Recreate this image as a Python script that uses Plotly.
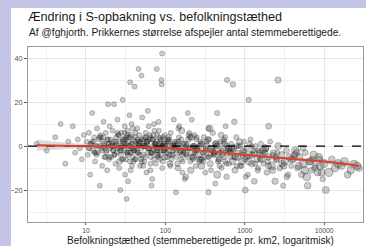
import plotly.graph_objects as go

# ---- data (density: eligible voters per km2, change: pct points, voters: thousands)
taethed_a = [2.4, 3.2, 4.1, 4.8, 5.5, 6.0, 6.8, 7.3, 7.9, 8.4, 8.9, 9.4]
aendring_a = [1, -2, 4, 10, -8, 2, 9, -3, 3, -1, -6, 5]
vaelgere_a = [0.4, 0.3, 0.5, 0.6, 0.5, 0.7, 0.4, 0.6, 0.9, 1.2, 0.7, 0.8]

taethed_b = [10.2, 10.5, 10.9, 11.3, 11.6, 12.0, 12.3, 12.7, 13.0, 13.4, 13.8, 14.1, 14.5, 14.9, 15.2, 15.6,
             16.0, 16.3, 16.7, 17.0, 17.4, 17.8, 18.1, 18.5, 18.8, 19.2, 19.6, 19.9, 11.1, 12.5, 13.6, 15.0,
             16.5, 18.0, 19.4]
aendring_b = [2, -4, 6, -13, 1, 15, -2, 4, -7, 0, 8, -3, 3, -18, 5, -1, -9, 2, 11, -5, 0, 6, -2, -11, 3, 1,
              -6, 9, -1, 2, -4, 0, 4, -3, 1]
vaelgere_b = [1.1, 0.8, 2.0, 0.6, 1.5, 0.9, 2.4, 1.2, 0.7, 3.0, 1.0, 1.8, 0.9, 0.5, 1.4, 2.2, 0.8, 1.6, 0.7,
              1.3, 2.8, 1.0, 1.9, 0.6, 1.2, 2.5, 0.9, 1.1, 1.7, 2.1, 1.0, 3.2, 0.8, 1.5, 2.0]

taethed_c = [20.3, 20.8, 21.2, 21.7, 22.1, 22.6, 23.0, 23.5, 24.0, 24.4, 24.9, 25.3, 25.8, 26.2, 26.7, 27.1,
             27.6, 28.0, 28.5, 29.0, 29.4, 29.9, 30.3, 30.8, 31.2, 31.7, 32.1, 32.6, 33.0, 33.5, 34.0, 34.4,
             34.9, 35.3, 35.8, 36.2, 36.7, 37.1, 37.6, 38.0, 38.5, 39.0, 39.4, 39.9, 20.5, 22.9, 25.1, 27.3,
             29.6, 31.9, 34.2, 36.5, 38.8, 21.9, 24.2, 26.5, 28.8, 31.1, 33.4, 35.7]
aendring_c = [3, -5, 1, 7, -2, 19, 0, -8, 4, -3, 12, -1, 5, -10, 2, -20, -4, 6, 0, 21, -6, 3, -2, 9, -13, 1,
              4, -24, -3, 7, -16, 2, -1, 14, -7, 0, 5, -3, 10, -9, 1, -5, 3, -2, 0, -4, 6, -1, 2, -6, 4, -11,
              8, -2, 1, -7, 3, 0, 5, -3]
vaelgere_c = [1.5, 2.2, 0.9, 3.1, 1.2, 2.6, 1.8, 0.8, 4.0, 1.4, 2.0, 3.3, 1.1, 0.7, 2.7, 1.6, 3.8, 1.0, 2.3,
              1.9, 0.9, 4.5, 1.3, 2.1, 0.8, 3.0, 1.7, 1.2, 2.5, 3.6, 1.4, 0.9, 2.9, 1.8, 1.1, 4.2, 2.0, 1.5,
              0.8, 3.4, 2.4, 1.0, 1.9, 2.8, 3.2, 1.3, 2.6, 0.9, 4.8, 1.7, 2.2, 1.1, 3.5, 2.0, 1.4, 5.0, 1.6,
              2.7, 0.9, 3.9]

taethed_d = [40.8, 41.6, 42.5, 43.3, 44.2, 45.1, 46.0, 47.0, 48.0, 49.0, 50.0, 51.1, 52.2, 53.3, 54.4, 55.5,
             56.7, 57.9, 59.1, 60.3, 61.6, 62.9, 64.2, 65.5, 66.9, 68.3, 69.7, 71.2, 72.7, 74.2, 75.7, 77.3,
             78.9, 80.6, 82.3, 84.0, 85.7, 87.5, 89.4, 91.2, 93.1, 95.1, 97.1, 99.1, 42.0, 44.8, 47.5, 50.5,
             53.8, 57.0, 60.8, 64.8, 69.0, 73.5, 78.0, 83.0, 88.5, 94.0, 98.0, 41.2, 46.5, 52.7, 58.5, 63.5,
             67.6, 72.0, 76.5, 81.5, 86.6, 92.0, 96.0, 55.0, 65.0, 75.0]
aendring_d = [-2, 4, -6, 1, 8, -3, 0, 5, -9, 2, -1, 13, -4, 3, -7, 0, 6, -12, 2, -3, 9, -1, 4, -5, -18, -15,
              3, -2, 7, 0, -8, 2, 5, -4, 11, -1, -6, 3, 0, -10, 4, -2, 1, -5, 6, -3, 2, -7, 0, 4, -1, -11,
              3, 1, -4, 7, -2, 0, 5, -6, 2, -9, 1, 3, -3, 10, -1, -5, 2, 0, -2, 4, -8, 1]
vaelgere_d = [2.1, 1.3, 3.5, 0.9, 2.7, 1.6, 4.1, 1.2, 2.4, 3.0, 1.8, 0.8, 5.2, 2.0, 1.4, 3.7, 1.1, 2.6, 4.6,
              1.5, 2.9, 1.0, 3.3, 1.9, 0.7, 2.2, 4.4, 1.6, 3.1, 2.5, 1.2, 5.5, 2.0, 1.4, 3.8, 0.9, 2.7, 4.0,
              1.7, 2.3, 3.4, 1.1, 2.8, 4.9, 1.5, 3.0, 2.2, 1.0, 4.3, 1.8, 2.6, 3.6, 1.3, 2.0, 5.8, 1.6, 2.4,
              3.2, 1.1, 2.9, 4.7, 1.4, 2.1, 3.9, 1.7, 2.5, 1.0, 3.5, 2.2, 4.2, 1.5, 2.8, 3.1, 1.9]

taethed_e = [102, 105, 108, 111, 114, 117, 121, 124, 128, 132, 136, 140, 144, 148, 152, 157, 161, 166, 171,
             176, 181, 186, 192, 197, 203, 209, 215, 222, 228, 235, 242, 249, 104, 110, 116, 123, 130, 138,
             146, 155, 164, 174, 184, 195, 207, 219, 232, 245, 107, 119, 134, 150, 168, 189, 212, 238, 113,
             126, 142, 159, 179, 200, 225]
aendring_e = [1, -5, 3, -2, -8, 6, 0, -4, 12, -1, -21, 2, -10, 4, -3, 0, 7, -7, -2, -15, -14, 1, 15, 5, -1,
              -11, 12, -6, 0, -3, -9, 4, -3, 4, -9, 0, 2, -5, 8, -2, -12, 1, -4, 3, -7, 0, 5, -1, 2, -6, 0,
              9, -3, -5, 4, -2, -4, 1, -8, 3, -1, 6, -5]
vaelgere_e = [2.5, 4.0, 1.6, 3.2, 5.1, 2.0, 1.2, 3.8, 2.7, 6.0, 1.4, 2.9, 4.5, 1.8, 3.3, 2.2, 5.5, 1.0, 3.6,
              2.4, 4.8, 1.5, 2.6, 3.9, 1.9, 5.8, 2.1, 3.0, 4.2, 1.3, 2.8, 3.5, 1.7, 4.4, 2.3, 6.4, 1.1, 3.1,
              2.6, 5.0, 1.6, 3.7, 2.0, 4.6, 1.4, 2.9, 3.4, 5.3, 2.2, 1.2, 4.1, 2.7, 3.3, 1.8, 6.1, 2.5, 3.0,
              1.5, 4.7, 2.1, 3.6, 1.9, 5.6]

taethed_f = [255, 265, 275, 285, 296, 307, 318, 330, 342, 355, 368, 382, 396, 411, 426, 442, 458, 475, 493,
             511, 530, 550, 570, 591, 613, 260, 280, 302, 325, 350, 376, 405, 436, 469, 505, 543, 584, 628,
             270, 313, 362, 418, 484, 560, 290, 345, 400, 450, 520, 600]
aendring_f = [-1, -6, 2, -9, -3, 4, -12, 0, -5, 3, -8, -2, 6, -4, -17, 1, -7, -3, 2, -10, -1, -5, 4, -14,
              -2, -4, 1, -7, -2, -21, -11, -3, 0, -6, 5, 2, -8, -1, 0, -5, 8, -3, -9, 1, -6, 3, -2, -13, -4,
              0]
vaelgere_f = [3.4, 5.0, 2.1, 6.3, 1.7, 4.2, 2.8, 7.0, 3.6, 1.9, 5.4, 2.5, 4.0, 3.1, 1.5, 6.6, 2.3, 4.7, 3.8,
              2.0, 5.9, 3.0, 1.6, 4.4, 2.7, 6.8, 3.3, 2.0, 5.2, 4.1, 1.8, 3.7, 6.1, 2.4, 4.9, 3.5, 2.2, 5.7,
              4.3, 2.9, 6.5, 1.9, 3.9, 5.1, 2.6, 4.8, 3.2, 7.4, 2.1, 4.5]

taethed_g = [650, 675, 700, 727, 755, 783, 813, 844, 876, 909, 944, 980, 1017, 1056, 1096, 1138, 1181, 1226,
             1273, 1321, 1371, 1423, 1477, 1533, 1591, 660, 720, 790, 860, 940, 1030, 1120, 1230, 1340, 1460,
             1560]
aendring_g = [-3, 1, -7, -2, -11, 4, -5, 0, -9, -9, -3, 2, -20, -1, -13, -4, 3, -8, -2, -16, 0, -6, -10, -3,
              1, -5, -1, -9, 2, -4, -14, -7, 0, -3, -11, -6]
vaelgere_g = [4.6, 3.0, 6.2, 2.4, 5.3, 3.8, 7.1, 2.9, 4.4, 3.3, 6.7, 2.2, 5.0, 4.1, 3.5, 7.6, 2.7, 5.6, 3.9,
              4.8, 2.5, 6.0, 3.6, 5.4, 4.2, 3.1, 6.9, 2.8, 5.2, 4.5, 3.4, 7.3, 2.6, 5.8, 4.0, 3.2]

taethed_h = [1650, 1730, 1810, 1900, 1990, 2090, 2190, 2300, 2410, 2520, 2650, 2770, 2910, 3050, 3200, 3350,
             3510, 3680, 3860, 1700, 1950, 2240, 2580, 2960, 3400, 3900, 1850, 2450, 3100]
aendring_h = [-4, -8, -1, -12, -5, 2, -9, -3, -16, -6, 0, -10, -4, -18, -7, -2, -13, -5, -9, -2, -7, -11, -3,
              -8, -14, -6, -1, -5, -9]
vaelgere_h = [5.5, 3.7, 7.8, 4.3, 6.1, 3.2, 8.4, 4.9, 5.8, 3.5, 7.0, 4.6, 6.4, 3.9, 8.0, 5.1, 4.2, 6.8, 3.6,
              7.5, 4.4, 5.9, 3.3, 6.6, 4.8, 7.2, 5.2, 3.8, 6.3]

taethed_i = [4100, 4350, 4600, 4900, 5200, 5500, 5800, 6200, 6550, 6950, 7400, 7800, 8300, 8800, 9300, 9900,
             4250, 4800, 5400, 6050, 6800, 7600, 8550, 9600, 4500, 5700, 7100, 8900]
aendring_i = [-6, -2, -10, -5, -13, -8, -3, -18, -7, -11, -4, -9, -12, -6, -12, -8, -4, -9, -1, -14, -7, -10,
              -5, -15, -3, -11, -6, -9]
vaelgere_i = [6.0, 8.2, 4.5, 7.1, 5.3, 9.0, 4.8, 6.6, 7.7, 5.0, 8.5, 4.2, 6.9, 5.6, 7.4, 9.3, 5.8, 7.0, 4.6,
              8.8, 6.2, 5.1, 7.9, 4.4, 6.5, 8.1, 5.4, 7.3]

taethed_j = [10500, 11500, 12500, 13700, 15000, 16500, 18000, 19800, 21700, 23800, 26000, 27500]
aendring_j = [-20, -12, -6, -10, -8, -9, -7, -13, -11, -8, -9, -10]
vaelgere_j = [7.0, 9.5, 6.2, 8.4, 10.2, 7.6, 9.0, 6.8, 8.0, 7.3, 8.8, 6.5]

# dense core of the cloud
taethed_k1 = [10.8, 11.9, 12.8, 13.9, 14.7, 15.8, 16.9, 17.6, 18.9, 20.0, 21.4, 22.8, 23.7, 25.5, 26.9, 28.2,
              29.8, 31.5, 32.9, 34.7, 36.0, 37.8, 39.6, 41.8, 43.7, 45.6, 47.8, 50.2, 52.6, 55.8, 58.0, 61.0,
              63.9, 66.2, 69.5, 72.4, 75.1, 79.5, 83.6, 87.1, 90.5, 94.6, 98.5, 11.5, 13.2, 15.4, 17.2, 19.6,
              22.3, 24.6, 27.8, 30.6, 33.8, 37.0, 40.4, 44.9, 49.4, 54.0, 59.6, 65.8, 71.0, 77.7, 85.2, 92.8,
              99.6]
aendring_k1 = [-1, 2, -3, 0, 4, -2, 1, -5, 3, -1, 0, -4, 2, 5, -2, -6, 1, 3, -3, 0, 4, -1, -7, 2, -2, 1, -4,
               3, 0, -5, 2, -1, 5, -3, 0, -6, 1, -2, 4, -4, 0, 3, -2, 1, -3, 4, -1, -5, 2, 0, -2, 6, -4, 1,
               -1, 3, -6, 0, 2, -3, 5, -2, 1, -7, 0]
vaelgere_k1 = [1.2, 2.0, 1.5, 2.6, 1.0, 3.0, 1.8, 2.2, 1.4, 3.4, 2.1, 1.6, 2.8, 1.1, 3.6, 2.4, 1.9, 3.1, 1.3,
               2.7, 4.0, 1.7, 2.3, 3.3, 1.5, 2.9, 3.8, 2.0, 1.2, 3.5, 2.6, 4.2, 1.8, 3.0, 2.2, 1.4, 3.9, 2.5,
               1.9, 4.4, 2.8, 1.6, 3.2, 1.3, 2.1, 2.9, 1.7, 3.4, 2.4, 1.5, 3.7, 2.0, 4.1, 2.6, 1.8, 3.1, 2.3,
               4.5, 1.9, 3.3, 2.7, 1.4, 3.9, 2.2, 4.6]

taethed_k2 = [103, 112, 120, 129, 139, 147, 158, 169, 180, 193, 206, 218, 233, 252, 268, 288, 308, 332, 356,
              384, 410, 440, 475, 512, 548, 590, 635, 680, 735, 790, 850, 915, 985, 1060, 1150, 1240, 1350,
              1480, 1620, 1800, 2000, 2250, 2500, 109, 125, 143, 162, 185, 214, 246, 280, 322, 370, 425, 490,
              565, 650, 760, 880, 1010]
aendring_k2 = [-1, 3, -4, 0, -2, 2, -6, 1, -3, -1, 4, -5, 0, -2, -7, 1, -3, 2, -5, -1, -4, 0, -6, -2, 3, -3,
               -8, -1, -5, 0, -3, -7, -2, -5, 1, -4, -8, -2, -6, -3, -9, -4, -6, 2, -2, 1, -4, 0, -3, 3, -6,
               -1, -4, 1, -3, -7, -2, -5, 0, -6]
vaelgere_k2 = [2.8, 1.6, 3.9, 2.2, 4.6, 1.9, 3.3, 2.5, 5.0, 1.7, 3.6, 2.9, 4.3, 2.0, 3.1, 5.4, 2.4, 3.8, 1.8,
               4.9, 3.0, 2.6, 5.8, 3.5, 2.1, 4.4, 3.2, 5.2, 2.7, 4.0, 3.7, 6.0, 2.9, 4.7, 3.4, 5.5, 4.1, 3.0,
               6.3, 4.5, 5.1, 3.6, 6.6, 2.3, 3.7, 1.9, 4.2, 2.8, 5.3, 3.1, 4.8, 2.5, 3.9, 5.6, 2.7, 4.1, 3.3,
               6.2, 3.8, 4.4]

# outliers
taethed_o = [91, 46, 50, 78, 89, 90, 36, 41, 600, 710, 2630, 1120, 450, 740, 575, 350, 2000, 19, 60]
aendring_o = [42, 35, 32, 35, 30, 28, 29, 27, 30, 28, 30, 21, 15, 11, 9, 8, 9, 19, 16]
vaelgere_o = [3.0, 2.5, 2.8, 3.4, 2.6, 2.9, 2.2, 2.4, 4.0, 4.5, 5.5, 4.2, 3.8, 4.4, 3.6, 3.2, 5.0, 1.8, 2.5]

# smoothed trend (loess) and its half confidence width
trend_x = [2.4, 5, 13, 30, 56, 100, 240, 500, 1000, 2000, 4500, 10000, 20000, 27500]
trend_y = [0.4, 0.2, 0, -0.3, -0.5, -0.9, -1.8, -2.9, -4.0, -5.0, -6.0, -7.0, -8.3, -9.0]
trend_se = [2.5, 1.5, 0.7, 0.5, 0.4, 0.4, 0.4, 0.5, 0.5, 0.6, 0.8, 1.0, 1.4, 1.8]

x_ticks = [10, 100, 1000, 10000]
x_ticktext = ["10", "100", "1000", "10000"]
x_minor = [3.1623, 31.623, 316.23, 3162.3]
y_ticks = [-20, 0, 20, 40]
y_minor = [-30, -10, 10, 30]

title = "Ændring i S-opbakning vs. befolkningstæthed"
subtitle = "Af @fghjorth. Prikkernes størrelse afspejler antal stemmeberettigede."
x_title = "Befolkningstæthed (stemmeberettigede pr. km2, logaritmisk)"

# ---- assemble
xs = (taethed_a + taethed_b + taethed_c + taethed_d + taethed_e + taethed_f + taethed_g + taethed_h
      + taethed_i + taethed_j + taethed_k1 + taethed_k2 + taethed_o)
ys = (aendring_a + aendring_b + aendring_c + aendring_d + aendring_e + aendring_f + aendring_g + aendring_h
      + aendring_i + aendring_j + aendring_k1 + aendring_k2 + aendring_o)
vs = (vaelgere_a + vaelgere_b + vaelgere_c + vaelgere_d + vaelgere_e + vaelgere_f + vaelgere_g + vaelgere_h
      + vaelgere_i + vaelgere_j + vaelgere_k1 + vaelgere_k2 + vaelgere_o)

x_log_range = [0.27, 4.49]
y_range = [-34.5, 45]
FONT = "Liberation Sans, Arial, sans-serif"

fig = go.Figure()

fig.add_trace(go.Scatter(
    x=xs, y=ys, mode="markers",
    marker=dict(size=vs, sizemode="area", sizeref=2 * max(vs) / (8.5 ** 2), sizemin=2.5,
                color="rgba(35,35,35,0.33)",
                line=dict(color="rgba(15,15,15,0.5)", width=0.7)),
    hoverinfo="skip", showlegend=False))

upper = [y + s for y, s in zip(trend_y, trend_se)]
lower = [y - s for y, s in zip(trend_y, trend_se)]
fig.add_trace(go.Scatter(x=trend_x + trend_x[::-1], y=upper + lower[::-1], fill="toself",
                         fillcolor="rgba(150,150,150,0.35)", line=dict(width=0),
                         hoverinfo="skip", showlegend=False))

fig.add_trace(go.Scatter(x=[10 ** x_log_range[0], 10 ** x_log_range[1]], y=[0, 0], mode="lines",
                         line=dict(color="black", width=1.2, dash="dash"),
                         hoverinfo="skip", showlegend=False))

fig.add_trace(go.Scatter(x=trend_x, y=trend_y, mode="lines",
                         line=dict(color="#dc3f2a", width=2.0),
                         hoverinfo="skip", showlegend=False))

L, R, T, B = 28, 3, 47, 24
W, H = 366, 246
pw, ph = W - L - R, H - T - B

def px_x(px):
    return (px - L) / pw

def px_y(py):
    return (H - B - py) / ph

fig.add_shape(type="rect", xref="paper", yref="paper", layer="below",
              x0=px_x(11), x1=px_x(W + 5), y0=px_y(H + 5), y1=px_y(8),
              fillcolor="white", line=dict(width=0))

fig.add_annotation(text=title, xref="paper", yref="paper", x=px_x(26), y=px_y(17),
                   xanchor="left", yanchor="middle", showarrow=False,
                   font=dict(family=FONT, size=12.6, color="#1a1a1a"))
fig.add_annotation(text=subtitle, xref="paper", yref="paper", x=px_x(27), y=px_y(32),
                   xanchor="left", yanchor="middle", showarrow=False,
                   font=dict(family=FONT, size=10.2, color="#1a1a1a"))
fig.add_annotation(text=x_title, xref="paper", yref="paper", x=px_x(200), y=px_y(240.5),
                   xanchor="center", yanchor="middle", showarrow=False,
                   font=dict(family=FONT, size=10.0, color="#1a1a1a"))

fig.update_xaxes(type="log", range=x_log_range, tickvals=x_ticks, ticktext=x_ticktext,
                 showgrid=True, gridcolor="#e6e6e6", gridwidth=0.8,
                 minor=dict(tickvals=x_minor, showgrid=True, gridcolor="#f1f1f1", gridwidth=0.5, ticks=""),
                 ticks="outside", ticklen=2, tickcolor="#555", tickwidth=0.8,
                 tickfont=dict(family=FONT, size=6.8, color="#4d4d4d"),
                 showline=True, linecolor="#9a9a9a", linewidth=1, mirror=True, zeroline=False)
fig.update_yaxes(range=y_range, tickvals=y_ticks,
                 showgrid=True, gridcolor="#e6e6e6", gridwidth=0.8,
                 minor=dict(tickvals=y_minor, showgrid=True, gridcolor="#f1f1f1", gridwidth=0.5, ticks=""),
                 ticks="outside", ticklen=3, tickcolor="#555", tickwidth=0.8,
                 tickfont=dict(family=FONT, size=7.2, color="#4d4d4d"),
                 showline=True, linecolor="#9a9a9a", linewidth=1, mirror=True, zeroline=False)

fig.update_layout(width=W, height=H, margin=dict(l=L, r=R, t=T, b=B, pad=0),
                  paper_bgcolor="#c4c5e6", plot_bgcolor="white", showlegend=False)

fig.write_html("out.html", config={"displayModeBar": False},
               post_script="document.body.style.margin='0';document.body.style.padding='0';"
                           "document.body.style.overflow='hidden';")
